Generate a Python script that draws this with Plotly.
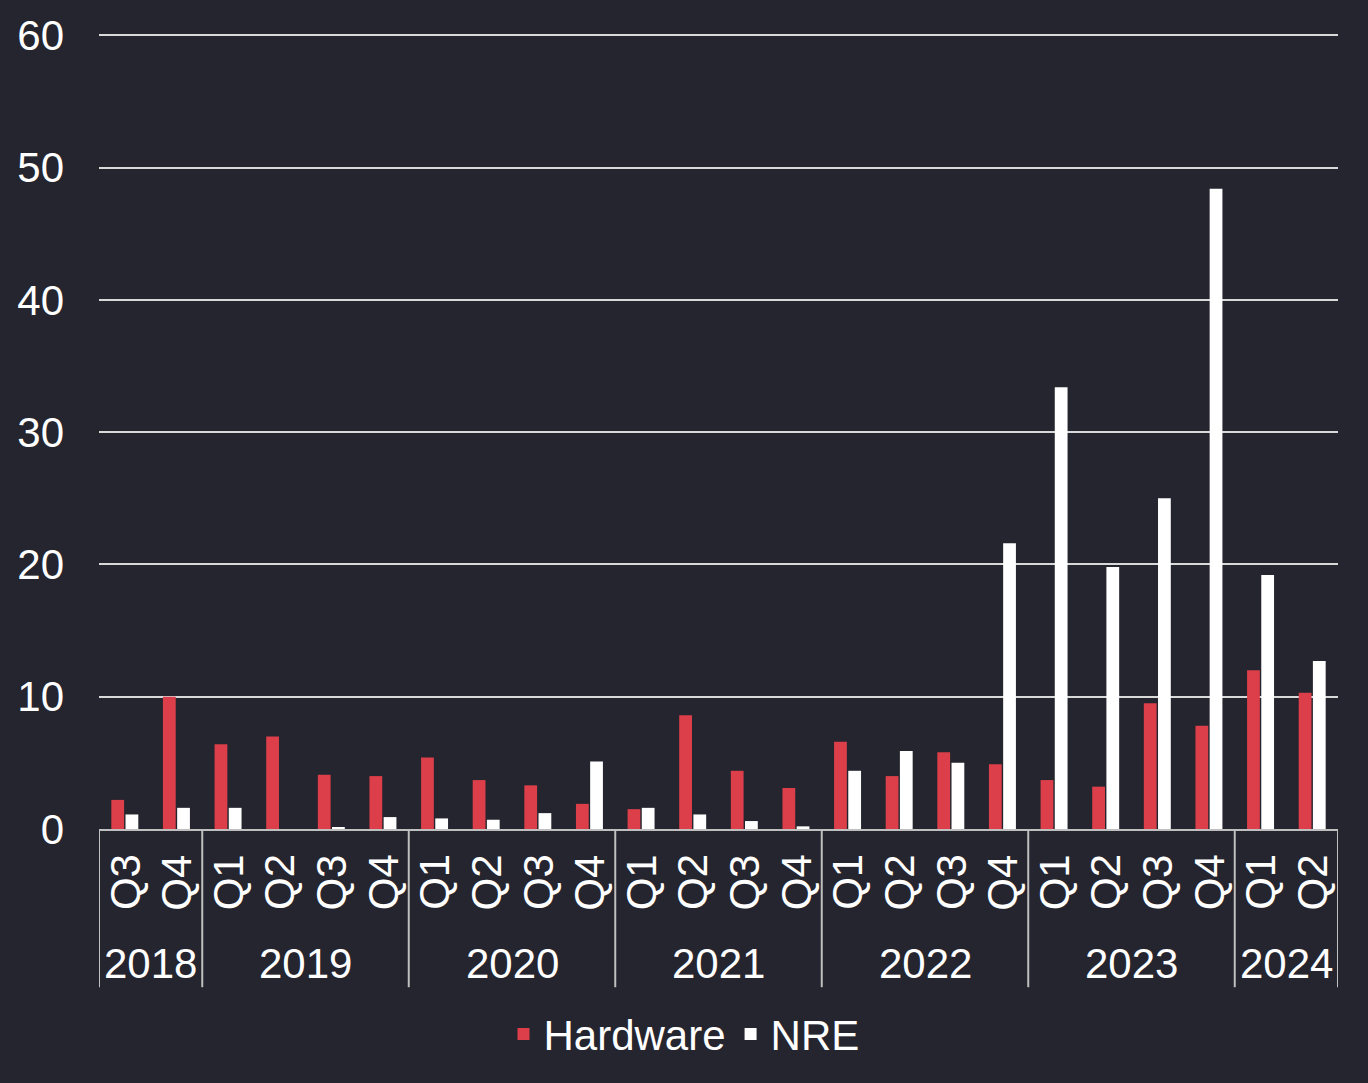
import plotly.graph_objects as go

years = ["2018", "2018",
         "2019", "2019", "2019", "2019",
         "2020", "2020", "2020", "2020",
         "2021", "2021", "2021", "2021",
         "2022", "2022", "2022", "2022",
         "2023", "2023", "2023", "2023",
         "2024", "2024"]
quarters = ["Q3", "Q4",
            "Q1", "Q2", "Q3", "Q4",
            "Q1", "Q2", "Q3", "Q4",
            "Q1", "Q2", "Q3", "Q4",
            "Q1", "Q2", "Q3", "Q4",
            "Q1", "Q2", "Q3", "Q4",
            "Q1", "Q2"]
hardware = [2.2, 10.0,
            6.4, 7.0, 4.1, 4.0,
            5.4, 3.7, 3.3, 1.9,
            1.5, 8.6, 4.4, 3.1,
            6.6, 4.0, 5.8, 4.9,
            3.7, 3.2, 9.5, 7.8,
            12.0, 10.3]
nre = [1.1, 1.6,
       1.6, 0.0, 0.1, 0.9,
       0.8, 0.7, 1.2, 5.1,
       1.6, 1.1, 0.6, 0.2,
       4.4, 5.9, 5.0, 21.6,
       33.4, 19.8, 25.0, 48.4,
       19.2, 12.7]
y_ticks = [0, 10, 20, 30, 40, 50, 60]

BG = "#25252f"
RED = "#dc3f4a"
WHITE = "#ffffff"
GRID = "#d9d9d9"
AXIS = "#bfbfbf"
FONT = "Liberation Sans, Arial, sans-serif"
FS = 42

cats = [f"{y} {q}" for y, q in zip(years, quarters)]

fig = go.Figure()
fig.add_trace(go.Bar(x=cats, y=hardware, name="Hardware",
                     marker=dict(color=RED, line=dict(width=0))))
fig.add_trace(go.Bar(x=cats, y=nre, name="NRE",
                     marker=dict(color=WHITE, line=dict(width=0))))

# quarter labels (rotated) on the category axis
for c, q in zip(cats, quarters):
    fig.add_annotation(x=c, xref="x", y=-0.067, yref="paper", text=q,
                       textangle=-90, showarrow=False,
                       font=dict(size=FS, color="#ffffff", family=FONT),
                       xanchor="center", yanchor="middle")

# year group labels and dividers
groups = []
for i, y in enumerate(years):
    if not groups or groups[-1][0] != y:
        groups.append([y, i, i])
    else:
        groups[-1][2] = i
for y, s, e in groups:
    fig.add_annotation(x=(s + e) / 2, xref="x", y=-0.169, yref="paper", text=y,
                       showarrow=False,
                       font=dict(size=FS, color="#ffffff", family=FONT),
                       xanchor="center", yanchor="middle")
bounds = [g[1] - 0.5 for g in groups] + [groups[-1][2] + 0.5]
for b in bounds:
    fig.add_shape(type="line", xref="x", yref="paper", x0=b, x1=b, y0=0, y1=-0.199,
                  line=dict(color=AXIS, width=2))

fig.update_layout(
    width=1368, height=1083,
    paper_bgcolor=BG, plot_bgcolor=BG,
    margin=dict(l=99, r=30, t=34, b=254),
    barmode="group", bargap=0.45, bargroupgap=0.1,
    font=dict(family=FONT, size=FS, color="#ffffff"),
    showlegend=True,
    legend=dict(orientation="h", xref="container", x=0.5, xanchor="center",
                yref="container", y=0.045, yanchor="middle",
                font=dict(size=FS, color="#ffffff"), bgcolor="rgba(0,0,0,0)",
                itemwidth=30),
)
fig.update_yaxes(range=[0, 60.1], tickvals=y_ticks, showgrid=True, gridcolor=GRID,
                 gridwidth=2, zeroline=False, showline=False,
                 ticks="", ticklabelstandoff=34,
                 tickfont=dict(size=FS, color="#ffffff"))
fig.update_xaxes(type="category", showticklabels=False, showline=True,
                 linecolor=AXIS, linewidth=2, ticks="", showgrid=False,
                 range=[-0.5, len(cats) - 0.5])

fig.write_html("out.html")
